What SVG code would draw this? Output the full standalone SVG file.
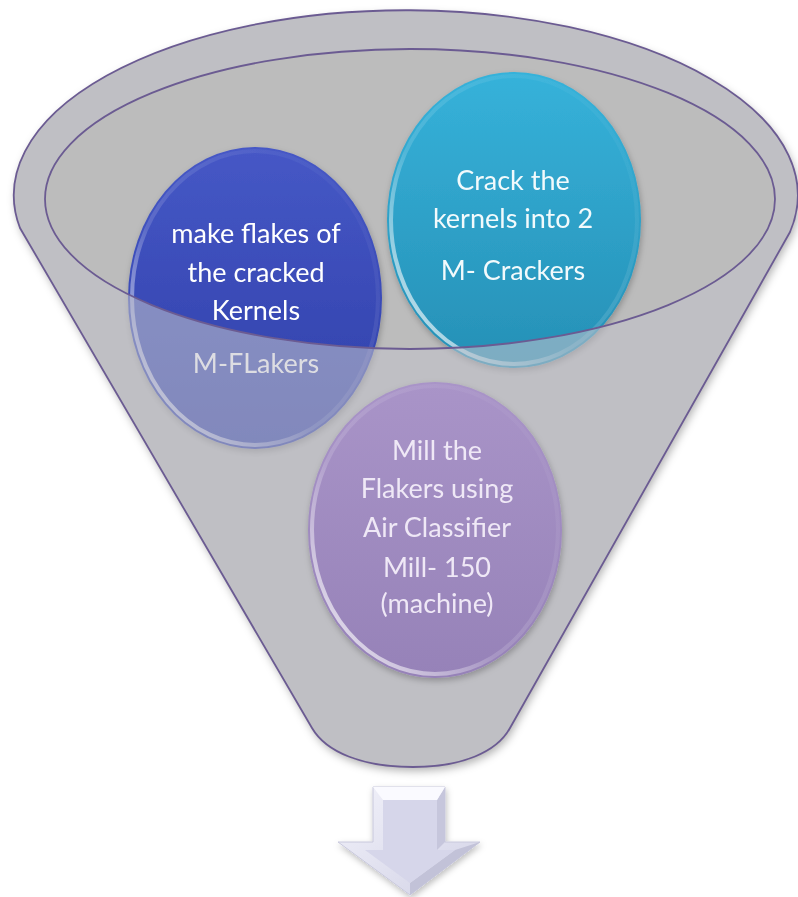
<svg xmlns="http://www.w3.org/2000/svg" width="798" height="897" viewBox="0 0 798 897">
<style>
.lbl{font-family:"Lato","Liberation Sans",sans-serif;font-size:27px;text-anchor:middle}
.edge{fill:none;stroke:#6b5b92;stroke-width:1.8}
.hl{fill:none;stroke-width:4}
</style>
<defs>
<filter id="sh" x="-10%" y="-10%" width="120%" height="125%">
<feDropShadow dx="2" dy="4" stdDeviation="4" flood-color="#000" flood-opacity="0.3"/>
</filter>
<filter id="csh" x="-10%" y="-10%" width="120%" height="125%">
<feDropShadow dx="1" dy="3" stdDeviation="3" flood-color="#000" flood-opacity="0.25"/>
</filter>
<linearGradient id="gBlue" x1="0" y1="0" x2="0" y2="1">
<stop offset="0" stop-color="#4658c6"/><stop offset="1" stop-color="#2e3ea8"/>
</linearGradient>
<linearGradient id="gCyan" x1="0" y1="0" x2="0" y2="1">
<stop offset="0" stop-color="#36b2da"/><stop offset="1" stop-color="#2690b6"/>
</linearGradient>
<linearGradient id="gMill" x1="0" y1="0" x2="0" y2="1">
<stop offset="0" stop-color="#a994c8"/><stop offset="1" stop-color="#9682b8"/>
</linearGradient>
<linearGradient id="gHl" x1="0" y1="1" x2="1" y2="0">
<stop offset="0" stop-color="#fff" stop-opacity="0.9"/><stop offset="0.4" stop-color="#fff" stop-opacity="0.15"/><stop offset="1" stop-color="#fff" stop-opacity="0"/>
</linearGradient>
<linearGradient id="gArrow" x1="0" y1="0" x2="1" y2="1">
<stop offset="0" stop-color="#f2f2fa"/><stop offset="1" stop-color="#d2d2e6"/>
</linearGradient>
</defs>

<g id="funnel">
<path filter="url(#sh)" fill="#bbbbbb" d="M 20 228 A 392 185 0 1 1 790 232 L 510 728 C 497 752 462 767 413 767 C 362 767 326 752 312 728 Z"/>
<ellipse cx="410" cy="199" rx="365" ry="150" fill="#bcbcbc"/>
</g>

<g id="node-flakes" filter="url(#csh)">
<ellipse cx="255" cy="298" rx="127" ry="151" fill="url(#gBlue)"/>
<ellipse cx="255" cy="298" rx="123" ry="147" class="hl" stroke="url(#gHl)"/>
<text class="lbl" fill="#ffffff"><tspan x="256" y="243">make flakes of</tspan><tspan x="256" y="282">the cracked</tspan><tspan x="256" y="320">Kernels</tspan><tspan x="256" y="373">M-FLakers</tspan></text>
</g>

<g id="node-crack" filter="url(#csh)">
<ellipse cx="514" cy="220" rx="127" ry="148" fill="url(#gCyan)"/>
<ellipse cx="514" cy="220" rx="123" ry="144" class="hl" stroke="url(#gHl)"/>
<text class="lbl" fill="#f2fafc"><tspan x="513" y="190">Crack the</tspan><tspan x="513" y="228">kernels into 2</tspan><tspan x="513" y="280">M- Crackers</tspan></text>
</g>

<g id="funnel-overlay">
<path fill="#c2c2cc" fill-opacity="0.56" fill-rule="evenodd" d="M 20 228 A 392 185 0 1 1 790 232 L 510 728 C 497 752 462 767 413 767 C 362 767 326 752 312 728 Z M 45 199 A 365 150 0 1 0 775 199 A 365 150 0 1 0 45 199 Z"/>
<ellipse cx="410" cy="199" rx="365" ry="150" class="edge"/>
</g>

<g id="node-mill" filter="url(#csh)">
<ellipse cx="435" cy="530" rx="127" ry="148" fill="url(#gMill)"/>
<ellipse cx="435" cy="530" rx="123" ry="144" class="hl" stroke="url(#gHl)"/>
<text class="lbl" fill="#efe8f6"><tspan x="437" y="460">Mill the</tspan><tspan x="437" y="498">Flakers using</tspan><tspan x="437" y="537">Air Classifier</tspan><tspan x="437" y="577">Mill- 150</tspan><tspan x="437" y="613">(machine)</tspan></text>
</g>

<g id="funnel-outline">
<path class="edge" d="M 20 228 A 392 185 0 1 1 790 232 L 510 728 C 497 752 462 767 413 767 C 362 767 326 752 312 728 Z"/>
</g>

<g id="connectors">
<g id="arrow" filter="url(#csh)">
<polygon points="373,787 445,787 445,842 480,842 410,895 338,842 373,842" fill="url(#gArrow)" stroke="#c8c8dc" stroke-width="1"/>
<polygon points="445,787 445,842 437,850 437,800" fill="#c6c6dc"/>
<polygon points="480,842 410,895 410,883 455,850" fill="#c2c2d8"/>
<polygon points="373,787 445,787 437,800 383,800" fill="#fafaff"/>
<polygon points="383,800 437,800 437,850 455,850 410,883 365,850 383,850" fill="#d6d6ea"/>
</g>
</g>
</svg>
